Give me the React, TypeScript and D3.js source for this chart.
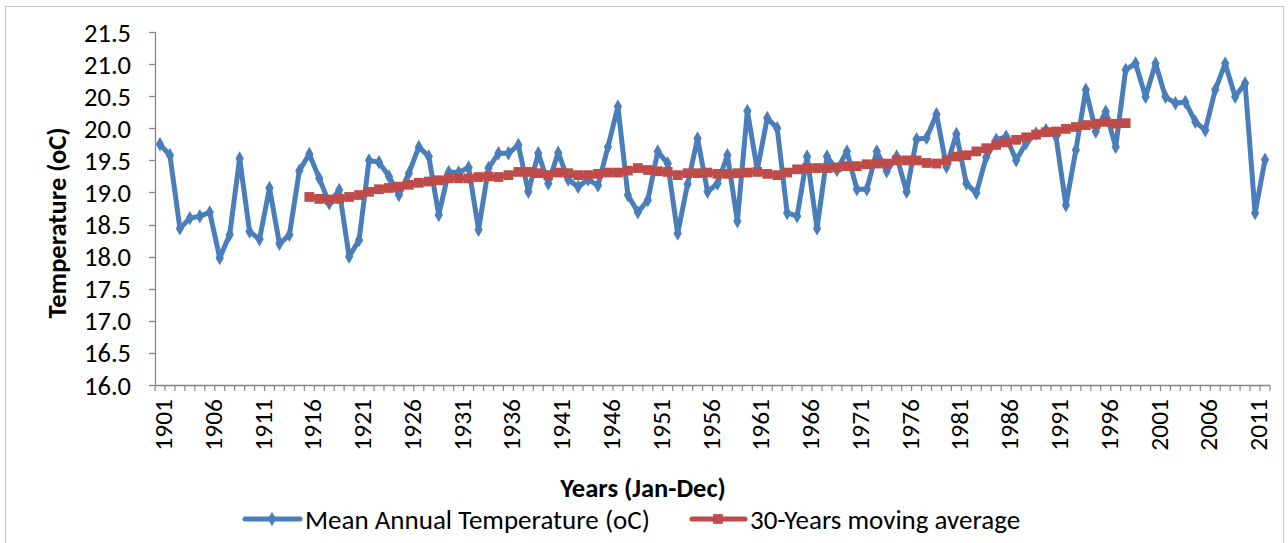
import React from "react";
import * as d3 from "d3";

const years: number[] = d3.range(1901, 2013);

const meanTemp: number[] = [
  19.75, 19.58, 18.44, 18.60, 18.63, 18.69, 17.98, 18.34, 19.53, 18.39,
  18.27, 19.07, 18.20, 18.34, 19.34, 19.60, 19.22, 18.83, 19.04, 18.00,
  18.26, 19.50, 19.47, 19.25, 18.96, 19.30, 19.71, 19.56, 18.65, 19.32,
  19.31, 19.39, 18.42, 19.38, 19.61, 19.61, 19.74, 19.01, 19.61, 19.14,
  19.62, 19.20, 19.09, 19.20, 19.11, 19.71, 20.34, 18.96, 18.69, 18.88,
  19.64, 19.45, 18.36, 19.13, 19.84, 19.01, 19.14, 19.58, 18.55, 20.27,
  19.35, 20.16, 20.00, 18.68, 18.63, 19.56, 18.44, 19.56, 19.35, 19.64,
  19.05, 19.05, 19.64, 19.33, 19.56, 19.01, 19.83, 19.85, 20.22, 19.40,
  19.91, 19.14, 18.99, 19.55, 19.82, 19.87, 19.50, 19.77, 19.92, 19.97,
  19.87, 18.80, 19.66, 20.60, 19.95, 20.26, 19.71, 20.91, 21.01, 20.49,
  21.01, 20.49, 20.39, 20.41, 20.10, 19.97, 20.60, 21.01, 20.49, 20.70,
  18.68, 19.51,
];

const movingAvgStart = 1916;
const movingAvg: number[] = [
  18.93, 18.90, 18.89, 18.90, 18.93, 18.96, 19.01, 19.05, 19.07, 19.09,
  19.12, 19.15, 19.17, 19.19, 19.22, 19.22, 19.22, 19.24, 19.25, 19.24,
  19.27, 19.32, 19.32, 19.30, 19.27, 19.31, 19.30, 19.27, 19.27, 19.29,
  19.31, 19.31, 19.34, 19.38, 19.35, 19.33, 19.32, 19.27, 19.30, 19.30,
  19.31, 19.29, 19.29, 19.30, 19.31, 19.32, 19.29, 19.27, 19.31, 19.36,
  19.38, 19.38, 19.38, 19.39, 19.41, 19.41, 19.44, 19.45, 19.45, 19.50,
  19.50, 19.50, 19.46, 19.45, 19.50, 19.56, 19.58, 19.64, 19.69, 19.74,
  19.78, 19.82, 19.86, 19.90, 19.94, 19.95, 19.99, 20.02, 20.05, 20.07,
  20.10, 20.07, 20.08,
];

const xTickYears: number[] = [1901, 1906, 1911, 1916, 1921, 1926, 1931, 1936, 1941, 1946, 1951, 1956, 1961, 1966, 1971, 1976, 1981, 1986, 1991, 1996, 2001, 2006, 2011];
const yTicks: number[] = [16.0, 16.5, 17.0, 17.5, 18.0, 18.5, 19.0, 19.5, 20.0, 20.5, 21.0, 21.5];

const seriesNames = ["Mean Annual Temperature (oC)", "30-Years moving average"];
const xTitle = "Years (Jan-Dec)";
const yTitle = "Temperature (oC)";

const BLUE = "#4A7EBB";
const RED = "#BE4B48";
const AXIS = "#868686";
const FONT = "Carlito, Calibri, Lato, sans-serif";

export default function App() {
  const W = 1288, H = 543;
  const x = d3.scaleBand<number>().domain(years).range([155, 1270]).padding(0);
  const bw = x.bandwidth();
  const cx = (yr: number) => (x(yr) as number) + bw / 2;
  const y = d3.scaleLinear().domain([16, 21.5]).range([385, 32]);

  const blueData = years.map((yr, i) => ({ yr, v: meanTemp[i] }));
  const redData = movingAvg.map((v, i) => ({ yr: movingAvgStart + i, v }));

  const line = d3.line<{ yr: number; v: number }>().x(d => cx(d.yr)).y(d => y(d.v));
  const diamond = d3.symbol().type(d3.symbolDiamond).size(60)()!;
  const square = d3.symbol().type(d3.symbolSquare).size(95)()!;

  const boundaries = years.map(yr => x(yr) as number).concat([1270]);

  return (
    <svg width={W} height={H} style={{ position: "absolute", left: 0, top: 0, background: "#fff" }} fontFamily={FONT}>
      <rect x={5.5} y={6.5} width={1278} height={560} fill="#fff" stroke="#c4c4c4" strokeWidth={1} />
      {/* y axis */}
      <line x1={155.5} x2={155.5} y1={y(21.5)} y2={y(16)} stroke={AXIS} strokeWidth={1.3} />
      {yTicks.map(t => (
        <g key={t}>
          <line x1={149} x2={155.5} y1={Math.round(y(t)) + 0.5} y2={Math.round(y(t)) + 0.5} stroke={AXIS} strokeWidth={1.3} />
          <text x={131} y={y(t)} dy="0.36em" textAnchor="end" fontSize={26.5} fill="#000">{t.toFixed(1)}</text>
        </g>
      ))}
      {/* x axis */}
      <line x1={155} x2={1270} y1={385.5} y2={385.5} stroke={AXIS} strokeWidth={1.3} />
      {boundaries.map((bx, i) => (
        <line key={i} x1={bx} x2={bx} y1={385.5} y2={391} stroke={AXIS} strokeWidth={1.2} />
      ))}
      {xTickYears.map(yr => (
        <text key={yr} transform={`translate(${cx(yr) + 12},${399}) rotate(-90)`} textAnchor="end" fontSize={25.5} fill="#000">{yr}</text>
      ))}
      {/* titles */}
      <text x={643} y={497} textAnchor="middle" fontSize={26.5} fontWeight="bold" fill="#000">{xTitle}</text>
      <text transform={`translate(66,223) rotate(-90)`} textAnchor="middle" fontSize={26.5} fontWeight="bold" fill="#000">{yTitle}</text>
      {/* series */}
      <path d={line(blueData)!} fill="none" stroke={BLUE} strokeWidth={5} strokeLinejoin="round" />
      {blueData.map(d => (
        <path key={d.yr} d={diamond} transform={`translate(${cx(d.yr)},${y(d.v)})`} fill={BLUE} />
      ))}
      <path d={line(redData)!} fill="none" stroke={RED} strokeWidth={5} strokeLinejoin="round" />
      {redData.map(d => (
        <path key={d.yr} d={square} transform={`translate(${cx(d.yr)},${y(d.v)})`} fill={RED} />
      ))}
      {/* legend */}
      <g transform="translate(0,519)">
        <line x1={245} x2={300} y1={0} y2={0} stroke={BLUE} strokeWidth={5} strokeLinecap="round" />
        <path d={diamond} transform="translate(272,0)" fill={BLUE} />
        <text x={305} y={0} dy="0.36em" fontSize={27} fill="#000">{seriesNames[0]}</text>
        <line x1={692} x2={745} y1={0} y2={0} stroke={RED} strokeWidth={5} strokeLinecap="round" />
        <path d={square} transform="translate(718,0)" fill={RED} />
        <text x={750} y={0} dy="0.36em" fontSize={27} fill="#000">{seriesNames[1]}</text>
      </g>
    </svg>
  );
}
